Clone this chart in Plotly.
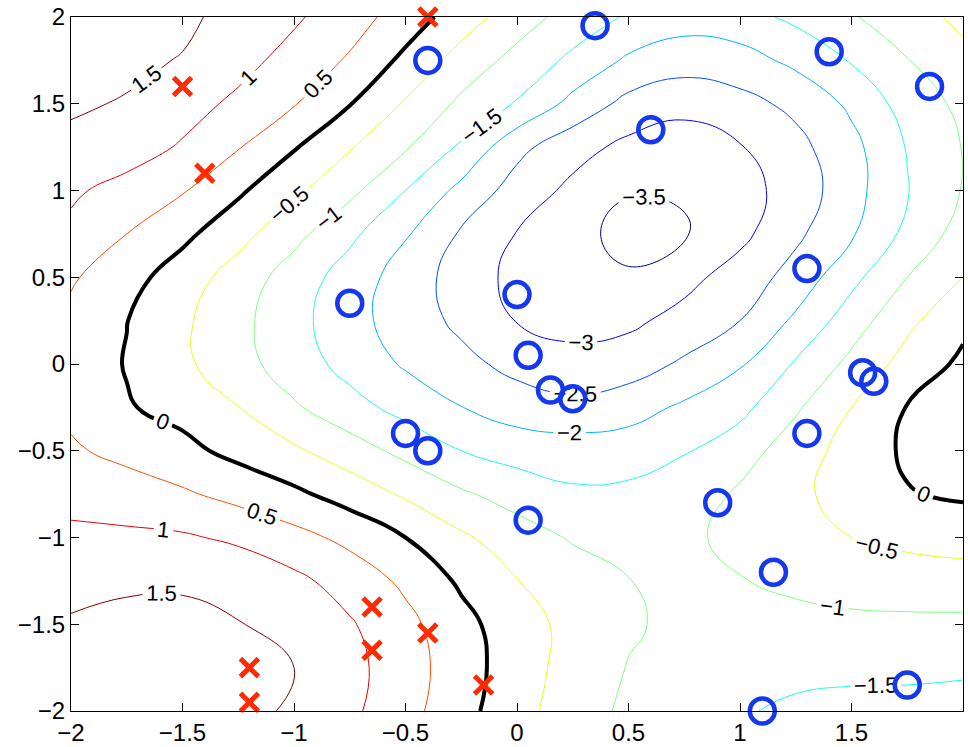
import plotly.graph_objects as go

x_grid = [-2.0, -1.75, -1.5, -1.25, -1.0, -0.75, -0.5, -0.25, 0.0,
          0.25, 0.5, 0.75, 1.0, 1.25, 1.5, 1.75, 2.0]
y_grid = [-2.0, -1.75, -1.5, -1.25, -1.0, -0.75, -0.5, -0.25, 0.0,
          0.25, 0.5, 0.75, 1.0, 1.25, 1.5, 1.75, 2.0]

# one row per y value (bottom to top), one column per x value (left to right)
z_rows = [
    [1.62, 1.70, 1.72, 1.65, 1.43, 1.10, 0.67, 0.17, -0.33, -0.76, -1.10, -1.30, -1.46, -1.58, -1.62, -1.62, -1.60],
    [1.65, 1.70, 1.72, 1.65, 1.50, 1.15, 0.72, 0.23, -0.27, -0.69, -1.02, -1.25, -1.37, -1.38, -1.41, -1.42, -1.46],
    [1.55, 1.60, 1.60, 1.52, 1.30, 1.05, 0.64, 0.16, -0.29, -0.65, -0.94, -1.12, -1.20, -1.17, -1.12, -1.11, -1.11],
    [1.35, 1.44, 1.45, 1.35, 1.12, 0.79, 0.40, -0.08, -0.49, -0.74, -0.99, -1.12, -1.02, -0.88, -0.78, -0.73, -0.71],
    [1.10, 1.10, 1.06, 0.91, 0.66, 0.37, 0.00, -0.42, -0.77, -1.05, -1.13, -1.08, -0.89, -0.70, -0.50, -0.38, -0.30],
    [0.85, 0.72, 0.57, 0.34, 0.10, -0.21, -0.57, -0.93, -1.20, -1.42, -1.38, -1.30, -0.92, -0.60, -0.32, -0.03, 0.07],
    [0.56, 0.37, 0.13, -0.14, -0.42, -0.77, -1.14, -1.50, -1.70, -1.75, -1.75, -1.53, -1.22, -0.74, -0.31, 0.08, 0.33],
    [0.40, 0.035, -0.15, -0.49, -0.94, -1.32, -1.67, -1.99, -2.25, -2.35, -2.20, -1.92, -1.64, -1.07, -0.50, 0.02, 0.30],
    [0.27, -0.025, -0.40, -0.82, -1.25, -1.67, -2.06, -2.36, -2.65, -2.85, -2.75, -2.42, -2.05, -1.45, -0.87, -0.31, 0.10],
    [0.38, 0.01, -0.41, -0.86, -1.33, -1.82, -2.24, -2.61, -3.02, -3.15, -3.10, -2.84, -2.50, -1.91, -1.24, -0.62, -0.12],
    [0.56, 0.18, -0.24, -0.72, -1.23, -1.72, -2.23, -2.71, -3.15, -3.35, -3.45, -3.15, -2.78, -2.31, -1.64, -1.00, -0.50],
    [0.90, 0.50, 0.12, -0.33, -0.85, -1.39, -1.95, -2.56, -3.02, -3.35, -3.65, -3.55, -3.13, -2.60, -2.06, -1.37, -0.80],
    [1.07, 0.84, 0.54, 0.08, -0.40, -0.87, -1.50, -2.14, -2.71, -3.12, -3.47, -3.45, -3.18, -2.80, -2.18, -1.53, -0.97],
    [1.38, 1.22, 0.95, 0.53, 0.04, -0.46, -0.95, -1.57, -2.36, -2.81, -3.13, -3.20, -3.03, -2.65, -2.15, -1.47, -0.98],
    [1.57, 1.46, 1.19, 0.90, 0.53, 0.02, -0.55, -1.10, -1.54, -2.15, -2.65, -2.88, -2.66, -2.38, -1.90, -1.29, -0.88],
    [1.70, 1.62, 1.47, 1.16, 0.83, 0.44, -0.12, -0.70, -1.16, -1.61, -2.08, -2.25, -2.20, -1.88, -1.46, -1.02, -0.62],
    [1.80, 1.72, 1.62, 1.30, 1.07, 0.72, 0.27, -0.25, -0.76, -1.20, -1.56, -1.80, -1.68, -1.39, -1.05, -0.68, -0.40],
]

# contour levels and their (jet) colours; level 0 is the thick black boundary
levels = [-3.5, -3.0, -2.5, -2.0, -1.5, -1.0, -0.5, 0.0, 0.5, 1.0, 1.5]
level_colors = ["#000080", "#0000e6", "#004dff", "#00b3ff", "#1affe6", "#80ff80",
                "#e6ff1a", "#000000", "#ff4d00", "#e60000", "#800000"]

# training points
pos_x = [-1.5, -1.4, -0.4, -1.2, -1.2, -0.65, -0.65, -0.4, -0.15]
pos_y = [1.6, 1.1, 2.0, -1.75, -1.95, -1.4, -1.65, -1.55, -1.85]
neg_x = [0.35, -0.4, 0.6, 1.4, 1.85, -0.75, 0.0, 0.05, 1.3, 0.15, 0.25,
         1.55, 1.6, -0.5, -0.4, 1.3, 0.9, 0.05, 1.15, 1.75, 1.1]
neg_y = [1.95, 1.75, 1.35, 1.8, 1.6, 0.35, 0.4, 0.05, 0.55, -0.15, -0.2,
         -0.05, -0.1, -0.4, -0.5, -0.4, -0.8, -0.9, -1.2, -1.85, -2.0]

tick_vals = [-2, -1.5, -1, -0.5, 0, 0.5, 1, 1.5, 2]
tick_text = ["\u22122", "\u22121.5", "\u22121", "\u22120.5", "0", "0.5", "1", "1.5", "2"]

FONT = "Liberation Sans"

fig = go.Figure()
for lev, col in zip(levels, level_colors):
    fig.add_trace(go.Contour(
        x=x_grid, y=y_grid, z=z_rows,
        autocontour=False,
        contours=dict(start=lev, end=lev, size=0.5, coloring="lines",
                      showlabels=True,
                      labelfont=dict(family=FONT, size=22, color="black")),
        colorscale=[[0, col], [1, col]],
        line=dict(width=4 if lev == 0 else 1, smoothing=1.3),
        showscale=False, hoverinfo="skip",
    ))

fig.add_trace(go.Scatter(
    x=pos_x, y=pos_y, mode="markers", cliponaxis=False,
    marker=dict(symbol="x-thin-open", size=18, color="#ff2a00",
                line=dict(width=5, color="#ff2a00")),
    hoverinfo="skip",
))
fig.add_trace(go.Scatter(
    x=neg_x, y=neg_y, mode="markers", cliponaxis=False,
    marker=dict(symbol="circle-open", size=25, color="#1438f0",
                line=dict(width=4.5, color="#1438f0")),
    hoverinfo="skip",
))

axis_common = dict(
    range=[-2, 2], tickmode="array", tickvals=tick_vals, ticktext=tick_text,
    ticks="inside", ticklen=8, tickwidth=1, tickcolor="black",
    showline=True, linecolor="black", linewidth=1, mirror="ticks",
    showgrid=False, zeroline=False, automargin=False,
    tickfont=dict(family=FONT, size=24, color="black"),
)
fig.update_xaxes(**axis_common)
fig.update_yaxes(**axis_common)

fig.update_layout(
    width=968, height=747,
    margin=dict(l=71, r=5, t=17, b=36),
    paper_bgcolor="white", plot_bgcolor="white",
    showlegend=False,
    font=dict(family=FONT, size=24, color="black"),
)

fig.write_html("out.html")
